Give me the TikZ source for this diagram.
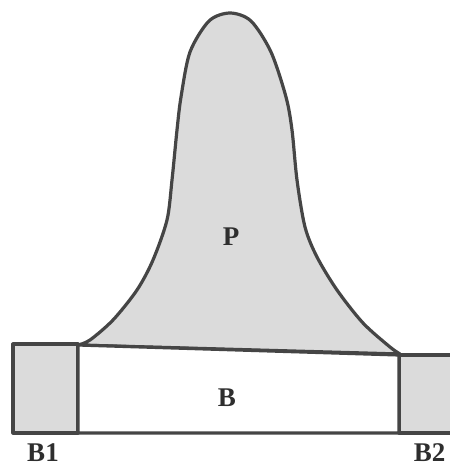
\documentclass[tikz,border=0pt]{standalone}
\usepackage{fontspec}
\setmainfont{Liberation Serif}
\usepackage{xcolor}
\usepackage{tikz}
\usetikzlibrary{positioning}
\definecolor{rim}{gray}{0.27}
\definecolor{shade}{gray}{0.86}
\definecolor{ink}{gray}{0.18}

\begin{document}
\begin{tikzpicture}[x=1pt, y=-1pt, line width=3.2pt, line join=round,
    zone/.style={draw=rim, fill=shade},
    hole/.style={draw=rim, fill=white},
    tag/.style={text=ink, font=\fontsize{27}{30}\selectfont\bfseries, anchor=base, inner sep=0pt}]
    \useasboundingbox (0,0) rectangle (450,467);
    \clip (0,0) rectangle (450,467);

    % 1. Vùng P
    \draw[zone] plot[smooth, tension=0.5] coordinates {(78,345) (90,340) (113,320) (137,290) (153,260) (167,220) (172,180) (177,130) (181,97) (190,52) (209,21) (230,13) (251,21) (271,52) (286,97) (292,130) (297,180) (305,227) (317,257) (337,290) (363,323) (390,347) (400,354)} -- cycle;

    % 2. Các khối đáy
    \draw[zone] (13,344) rectangle (78,433);
    \draw[zone] (399,355) -- (455,355) -- (455,433) -- (399,433) -- cycle;
    \draw[hole] (78,345) -- (399,355) -- (399,433) -- (78,433) -- cycle;

    % 3. Nhãn
    \node[tag] (p) at (231,245) {P};
    \node[tag] (b) at (227,406) {B};
    \node[tag] (b1) at (43,461) {B1};
    \node[tag, anchor=base east] (b2) at (447,461) {B2};
\end{tikzpicture}
\end{document}
